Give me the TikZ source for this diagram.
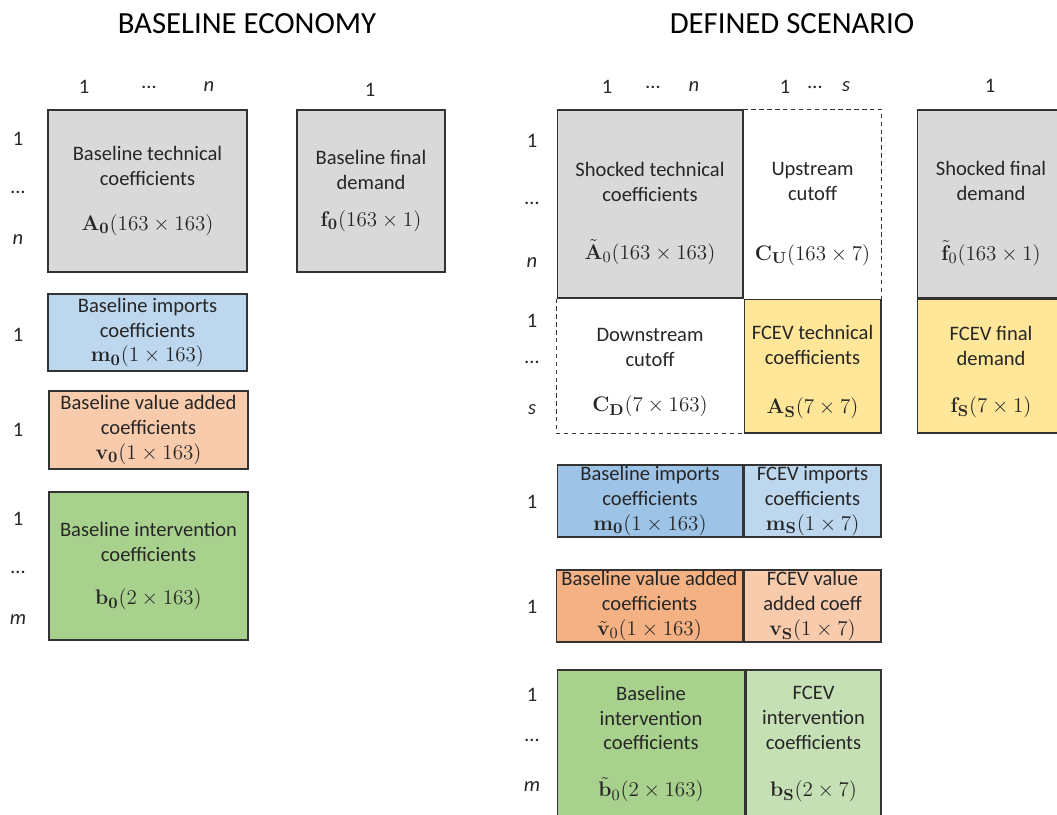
\documentclass[tikz,border=0pt]{standalone}
\usepackage[no-math]{fontspec}
\setmainfont{Carlito}
\usepackage{amsmath}
\usetikzlibrary{positioning}

\definecolor{cgray}{HTML}{D9D9D9}
\definecolor{cblue}{HTML}{BDD7EE}
\definecolor{cbluedk}{HTML}{9DC3E6}
\definecolor{corange}{HTML}{F8CBAD}
\definecolor{corangedk}{HTML}{F4B183}
\definecolor{cgreen}{HTML}{A9D18E}
\definecolor{cgreenlt}{HTML}{C5E0B4}
\definecolor{cyellow}{HTML}{FFE699}

% formula in a block, a bit larger than the text
\newcommand{\fml}[1]{{\fontsize{12.8}{14.2}\selectfont$#1$}}
% extra room above the first line of a block
\newcommand{\topgap}[1]{\rule{0pt}{#1}}

\begin{document}
\begin{tikzpicture}[
    x=0.02cm, y=-0.02cm,
    box/.style={draw=black!80, line width=0.6pt, align=center, inner sep=0pt,
        text=black!85, font=\fontsize{11.7}{14.2}\selectfont}, % Matrix block
    idx/.style={text=black!85, font=\fontsize{11.7}{13}\selectfont}, % Row and column indices
    heading/.style={font=\fontsize{17.5}{20}\selectfont},
    cut/.style={draw=black!80, line width=0.6pt, dash pattern=on 2.5pt off 2pt}
]
    \clip (0,0) rectangle (1057,814);

    % Titles
    \node (tl) [heading] at (247,24) {BASELINE ECONOMY};
    \node (tr) [heading] at (792,24) {DEFINED SCENARIO};

    % Baseline blocks
    \node (A0) [box, fill=cgray, minimum width=3.98cm, minimum height=3.24cm] at (147.5,191)
        {Baseline technical\\coefficients\\[0.4cm]\fml{\mathbf{A}_{\mathbf{0}}(163\times 163)}};
    \node (f0) [box, fill=cgray, minimum width=2.96cm, minimum height=3.24cm] at (371,191)
        {Baseline final\\demand\\[0.24cm]\fml{\mathbf{f}_{\mathbf{0}}(163\times 1)}};
    \node (m0) [box, fill=cblue, minimum width=3.98cm, minimum height=1.54cm] at (147.5,332.5)
        {Baseline imports\\coefficients\\\fml{\mathbf{m}_{\mathbf{0}}(1\times 163)}};
    \node (v0) [box, fill=corange, minimum width=3.98cm, minimum height=1.56cm] at (148.5,430)
        {Baseline value added\\coefficients\\\fml{\mathbf{v}_{\mathbf{0}}(1\times 163)}};
    \node (b0) [box, fill=cgreen, minimum width=3.98cm, minimum height=2.96cm] at (148.5,566)
        {Baseline intervention\\coefficients\\[0.38cm]\fml{\mathbf{b}_{\mathbf{0}}(2\times 163)}};

    % Baseline indices
    \node (bc1) [idx] at (84,87) {1};
    \node (bc2) [idx] at (149,87) {\dots};
    \node (bc3) [idx] at (209,87) {\textit{n}};
    \node (bf1) [idx] at (370,90) {1};
    \node (br1) [idx] at (18,139) {1};
    \node (br2) [idx] at (18,192) {\dots};
    \node (br3) [idx] at (18,240) {\textit{n}};
    \node (bm1) [idx] at (18,335) {1};
    \node (bv1) [idx] at (18,430) {1};
    \node (bb1) [idx] at (18,519) {1};
    \node (bb2) [idx] at (18,572) {\dots};
    \node (bb3) [idx] at (18,620) {\textit{m}};

    % Scenario blocks
    \node (At) [box, fill=cgray, minimum width=3.72cm, minimum height=3.76cm] at (650,204)
        {\topgap{0.66cm}Shocked technical\\coefficients\\[0.66cm]\fml{\tilde{\mathbf{A}}_0(163\times 163)}};
    \node (CU) [box, draw=none, minimum width=2.74cm, minimum height=3.76cm, right=0pt of At]
        {\topgap{0.66cm}Upstream\\cutoff\\[0.7cm]\fml{\mathbf{C}_{\mathbf{U}}(163\times 7)}};
    \node (CD) [box, draw=none, minimum width=3.72cm, minimum height=2.68cm, below=0pt of At]
        {\topgap{0.54cm}Downstream\\cutoff\\[0.4cm]\fml{\mathbf{C}_{\mathbf{D}}(7\times 163)}};
    \node (AS) [box, fill=cyellow, minimum width=2.74cm, minimum height=2.68cm, right=0pt of CD]
        {\topgap{0.54cm}FCEV technical\\coefficients\\[0.48cm]\fml{\mathbf{A}_{\mathbf{S}}(7\times 7)}};
    \node (ft) [box, fill=cgray, minimum width=2.96cm, minimum height=3.76cm] at (991,204)
        {\topgap{0.66cm}Shocked final\\demand\\[0.7cm]\fml{\tilde{\mathbf{f}}_0(163\times 1)}};
    \node (fS) [box, fill=cyellow, minimum width=2.96cm, minimum height=2.68cm, below=0pt of ft]
        {\topgap{0.54cm}FCEV final\\demand\\[0.44cm]\fml{\mathbf{f}_{\mathbf{S}}(7\times 1)}};

    \draw[cut] (CU.north west) -- (CU.north east) -- (CU.south east);
    \draw[cut] (CD.north west) -- (CD.south west) -- (CD.south east);

    \node (mb) [box, fill=cbluedk, minimum width=3.72cm, minimum height=1.44cm] at (650,501)
        {Baseline imports\\coefficients\\\fml{\mathbf{m}_{\mathbf{0}}(1\times 163)}};
    \node (mS) [box, fill=cblue, minimum width=2.74cm, minimum height=1.44cm, right=0pt of mb]
        {FCEV imports\\coefficients\\\fml{\mathbf{m}_{\mathbf{S}}(1\times 7)}};
    \node (vb) [box, fill=corangedk, minimum width=3.74cm, minimum height=1.44cm] at (649.5,606)
        {Baseline value added\\coefficients\\\fml{\tilde{\mathbf{v}}_0(1\times 163)}};
    \node (vS) [box, fill=corange, minimum width=2.74cm, minimum height=1.44cm, right=0pt of vb]
        {FCEV value\\added coeff\\\fml{\mathbf{v}_{\mathbf{S}}(1\times 7)}};
    \node (bb) [box, fill=cgreen, minimum width=3.76cm, minimum height=2.96cm] at (651,744)
        {Baseline\\intervention\\coefficients\\[0.44cm]\fml{\tilde{\mathbf{b}}_0(2\times 163)}};
    \node (bS) [box, fill=cgreenlt, minimum width=2.7cm, minimum height=2.96cm, right=0pt of bb]
        {FCEV\\intervention\\coefficients\\[0.44cm]\fml{\mathbf{b}_{\mathbf{S}}(2\times 7)}};

    % Scenario indices
    \node (sc1) [idx] at (607,87) {1};
    \node (sc2) [idx] at (653,87) {\dots};
    \node (sc3) [idx] at (694,87) {\textit{n}};
    \node (ss1) [idx] at (785,87) {1};
    \node (ss2) [idx] at (815,87) {\dots};
    \node (ss3) [idx] at (846,87) {\textit{s}};
    \node (sf1) [idx] at (990,86) {1};
    \node (sr1) [idx] at (532,141) {1};
    \node (sr2) [idx] at (532,203) {\dots};
    \node (sr3) [idx] at (532,263) {\textit{n}};
    \node (sq1) [idx] at (532,321) {1};
    \node (sq2) [idx] at (532,362) {\dots};
    \node (sq3) [idx] at (532,410) {\textit{s}};
    \node (sm1) [idx] at (532,502) {1};
    \node (sv1) [idx] at (532,607) {1};
    \node (sb1) [idx] at (532,695) {1};
    \node (sb2) [idx] at (532,740) {\dots};
    \node (sb3) [idx] at (532,787) {\textit{m}};

\end{tikzpicture}
\end{document}
